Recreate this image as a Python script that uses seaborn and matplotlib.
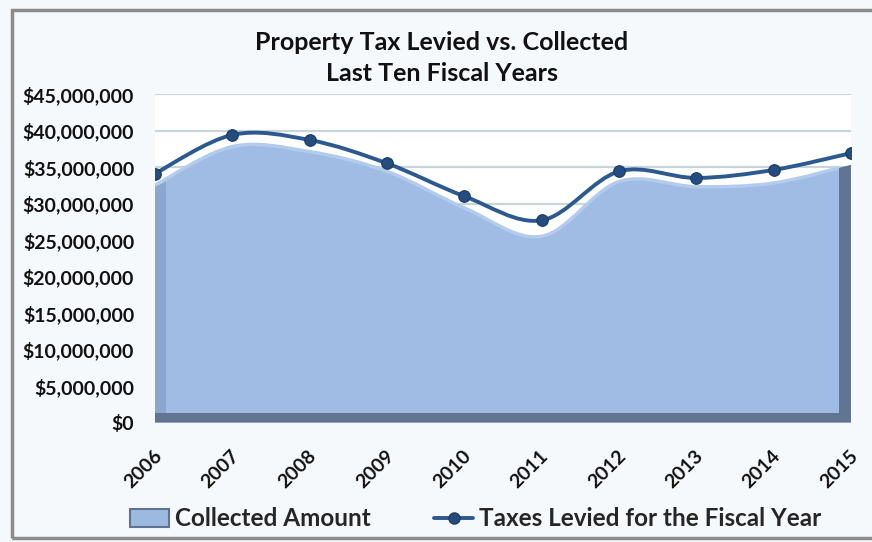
import matplotlib
matplotlib.use("Agg")
import matplotlib.pyplot as plt
from matplotlib.path import Path
from matplotlib.patches import PathPatch, Rectangle, Patch
from matplotlib.lines import Line2D
from matplotlib.ticker import FuncFormatter, MultipleLocator
import matplotlib.transforms as mtransforms
import numpy as np
import seaborn as sns

# Fiscal years and amounts (US dollars)
years = ["2006", "2007", "2008", "2009", "2010", "2011", "2012", "2013", "2014", "2015"]
collected = [32.5e6, 37.8e6, 37.1e6, 34.4e6, 29.4e6, 25.5e6, 33.0e6, 32.3e6, 32.8e6, 35.3e6]
levied = [34.1e6, 39.4e6, 38.7e6, 35.5e6, 31.0e6, 27.7e6, 34.4e6, 33.5e6, 34.6e6, 36.9e6]

title_lines = ["Property Tax Levied vs. Collected", "Last Ten Fiscal Years"]
legend_labels = ["Collected Amount", "Taxes Levied for the Fiscal Year"]

sns.set_theme(style="white")
plt.rcParams["font.family"] = ["Lato", "DejaVu Sans"]
plt.rcParams["font.weight"] = "bold"

W, H = 872, 542
fig = plt.figure(figsize=(W / 100, H / 100), dpi=100)
fig.patch.set_facecolor("#f6f9fb")

ax = fig.add_axes([155 / W, 1 - 422.5 / H, (851 - 155) / W, (422.5 - 94) / H])
ax.set_facecolor("white")
for s in ax.spines.values():
    s.set_visible(False)

pos = np.arange(len(years))


def smooth_vertices(xs, ys):
    """Bezier control points for a smoothed polyline through the given points."""
    pts = np.column_stack([xs, ys]).astype(float)
    n = len(pts)
    verts = [pts[0]]
    codes = [Path.MOVETO]
    for i in range(n - 1):
        p0 = pts[i - 1] if i > 0 else pts[i]
        p1 = pts[i]
        p2 = pts[i + 1]
        p3 = pts[i + 2] if i + 2 < n else pts[i + 1]
        c1 = p1 + (p2 - p0) / 6.0
        c2 = p2 - (p3 - p1) / 6.0
        verts += [c1, c2, p2]
        codes += [Path.CURVE4] * 3
    return verts, codes


# gridlines
for v in np.arange(0, 45e6 + 1, 5e6):
    ax.axhline(v, color="#c9d5da", lw=1.6, zorder=0)

# collected amount: bevelled area
cv, cc = smooth_vertices(pos, collected)
area_verts = cv + [(pos[-1], 0), (pos[0], 0), (pos[0], collected[0])]
area_codes = cc + [Path.LINETO, Path.LINETO, Path.CLOSEPOLY]
area_path = Path(area_verts, area_codes)

ax.add_patch(PathPatch(area_path, fc="#617592", ec="none", zorder=2))
dx_left, dx_right, base = 0.14, 0.16, 1.3e6
side = PathPatch(area_path, fc="#8ca7cd", ec="none", zorder=3)
ax.add_patch(side)
side.set_clip_path(Rectangle((pos[0], base), pos[-1] - dx_right, 60e6, transform=ax.transData))
face = PathPatch(area_path, fc="#a0bce4", ec="none", zorder=4)
ax.add_patch(face)
face.set_clip_path(Rectangle((pos[0] + dx_left, base), pos[-1] - dx_left - dx_right, 60e6,
                             transform=ax.transData))
rim = PathPatch(Path(cv, cc), fc="none", ec="#b3cbec", lw=2.5, zorder=5)
ax.add_patch(rim)
rim.set_clip_path(Rectangle((pos[0], base), pos[-1] - dx_right, 60e6, transform=ax.transData))

# levied: smoothed line with markers
lv, lc = smooth_vertices(pos, levied)
ax.add_patch(PathPatch(Path(lv, lc), fc="none", ec="#2c5990", lw=2.8, zorder=6,
                       capstyle="round", joinstyle="round"))
sns.scatterplot(x=pos, y=levied, ax=ax, s=70, color="#244c7e", edgecolor="#1b3c66",
                linewidth=0.8, zorder=7, legend=False)

ax.set_xlim(pos[0], pos[-1])
ax.set_ylim(0, 45e6)
ax.yaxis.set_major_locator(MultipleLocator(5e6))
ax.yaxis.set_major_formatter(FuncFormatter(lambda v, _: f"${v:,.0f}"))
ax.tick_params(axis="y", length=0, pad=15, labelsize=14, labelcolor="#111111")
ax.set_xticks(pos)
ax.set_xticklabels(years)
ax.tick_params(axis="x", length=0, pad=18, labelsize=14, labelcolor="#111111")
shift = mtransforms.ScaledTranslation(-2 / 100, 0, fig.dpi_scale_trans)
for lab in ax.get_xticklabels():
    lab.set_rotation(45)
    lab.set_ha("right")
    lab.set_va("top")
    lab.set_rotation_mode("anchor")
    lab.set_transform(lab.get_transform() + shift)
for lab in ax.get_yticklabels() + ax.get_xticklabels():
    lab.set_fontweight("bold")
ax.set_xlabel("")
ax.set_ylabel("")

# title
fig.text(442 / W, 1 - 42 / H, title_lines[0], ha="center", va="center",
         fontsize=18, fontweight="bold", color="#111111")
fig.text(442 / W, 1 - 73 / H, title_lines[1], ha="center", va="center",
         fontsize=18, fontweight="bold", color="#111111")

# legend
handles = [
    Patch(fc="#9db9e0", ec="#5f7391", lw=1.5),
    Line2D([0], [0], color="#2c5990", lw=2.8, marker="o", markersize=8,
           markerfacecolor="#244c7e", markeredgecolor="#1b3c66"),
]
fig.legend(handles, legend_labels, loc="center", bbox_to_anchor=(476 / W, 1 - 519 / H),
           ncol=2, frameon=False, prop={"weight": "bold", "size": 17.5},
           handlelength=1.6, handleheight=0.7, handletextpad=0.25, columnspacing=2.6)

# outer chart frame
fig.add_artist(Rectangle((12 / W, 4 / H), 1.2, (538 - 10) / H, transform=fig.transFigure,
                         fill=False, ec="#8c8c8c", lw=2.5))

fig.savefig("out.png", dpi=100, facecolor=fig.get_facecolor())
